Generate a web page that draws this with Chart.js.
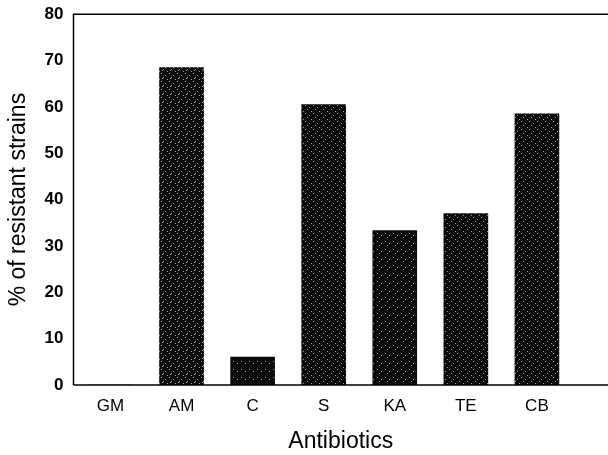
<!DOCTYPE html>
<html>
<head>
<meta charset="utf-8">
<script src="https://cdn.jsdelivr.net/npm/chart.js@4"></script>
<style>
  html, body { margin: 0; padding: 0; background: #fff; overflow: hidden; }
  #wrap { width: 608px; height: 455px; position: relative; }
</style>
</head>
<body>
<div id="wrap"><canvas id="chart"></canvas></div>
<script>
const antibiotics = ['GM', 'AM', 'C', 'S', 'KA', 'TE', 'CB'];
const resistantPct = [0, 68.5, 6, 60.5, 33.3, 37, 58.5];
const yTicks = [0, 10, 20, 30, 40, 50, 60, 70, 80];

// speckled black fill like the scanned bars
function makePattern(density) {
  const c = document.createElement('canvas');
  c.width = 8; c.height = 8;
  const g = c.getContext('2d');
  g.fillStyle = '#0a0a0a';
  g.fillRect(0, 0, 8, 8);
  const spots = [[1,1],[5,3],[3,5],[7,7],[2,6],[6,0],[4,2],[0,4]];
  g.fillStyle = '#9a9a9a';
  for (let i = 0; i < density; i++) g.fillRect(spots[i][0], spots[i][1], 1, 1);
  return g.createPattern(c, 'repeat');
}
const fills = [makePattern(5), makePattern(5), makePattern(2), makePattern(4), makePattern(3), makePattern(4), makePattern(4)];

const frame = {
  id: 'frame',
  afterDraw(chart) {
    const a = chart.chartArea, ctx = chart.ctx;
    ctx.save();
    ctx.strokeStyle = '#000';
    ctx.lineWidth = 1.5;
    ctx.beginPath();
    ctx.moveTo(a.left, a.bottom); ctx.lineTo(a.left, a.top); ctx.lineTo(chart.width, a.top);
    ctx.moveTo(a.left, a.bottom); ctx.lineTo(chart.width, a.bottom);
    ctx.stroke();
    ctx.restore();
  }
};

new Chart(document.getElementById('chart'), {
  type: 'bar',
  data: {
    datasets: [{
      data: resistantPct.map((v, i) => ({ x: i, y: v })),
      backgroundColor: fills,
      borderWidth: 0,
      barThickness: 44
    }]
  },
  options: {
    responsive: true,
    maintainAspectRatio: false,
    animation: false,
    layout: { padding: { top: 6, right: 0, left: 5, bottom: 0 } },
    plugins: { legend: { display: false }, tooltip: { enabled: false } },
    scales: {
      x: {
        type: 'linear',
        min: -0.52,
        max: 7,
        offset: false,
        afterBuildTicks: s => { s.ticks = antibiotics.map((_, i) => ({ value: i })); },
        grid: { display: false, drawTicks: false },
        border: { display: false },
        ticks: {
          autoSkip: false,
          maxRotation: 0,
          padding: 11,
          color: '#000',
          font: { family: 'Liberation Sans, Arial', size: 17 },
          callback: v => antibiotics[v]
        },
        title: {
          display: true, text: 'Antibiotics', color: '#000',
          font: { family: 'Liberation Sans, Arial', size: 23 },
          padding: { top: 0, bottom: 0 }
        }
      },
      y: {
        min: 0,
        max: 80,
        afterBuildTicks: s => { s.ticks = yTicks.map(v => ({ value: v })); },
        grid: { display: false, drawOnChartArea: false, drawTicks: true, tickLength: 6, color: '#000' },
        border: { display: false },
        ticks: {
          padding: 4,
          color: '#000',
          font: { family: 'Liberation Sans, Arial', size: 17, weight: 'bold' }
        },
        title: {
          display: true, text: '% of resistant strains', color: '#000',
          font: { family: 'Liberation Sans, Arial', size: 23 },
          padding: { top: 0, bottom: 8 }
        }
      }
    }
  },
  plugins: [frame]
});
</script>
</body>
</html>
